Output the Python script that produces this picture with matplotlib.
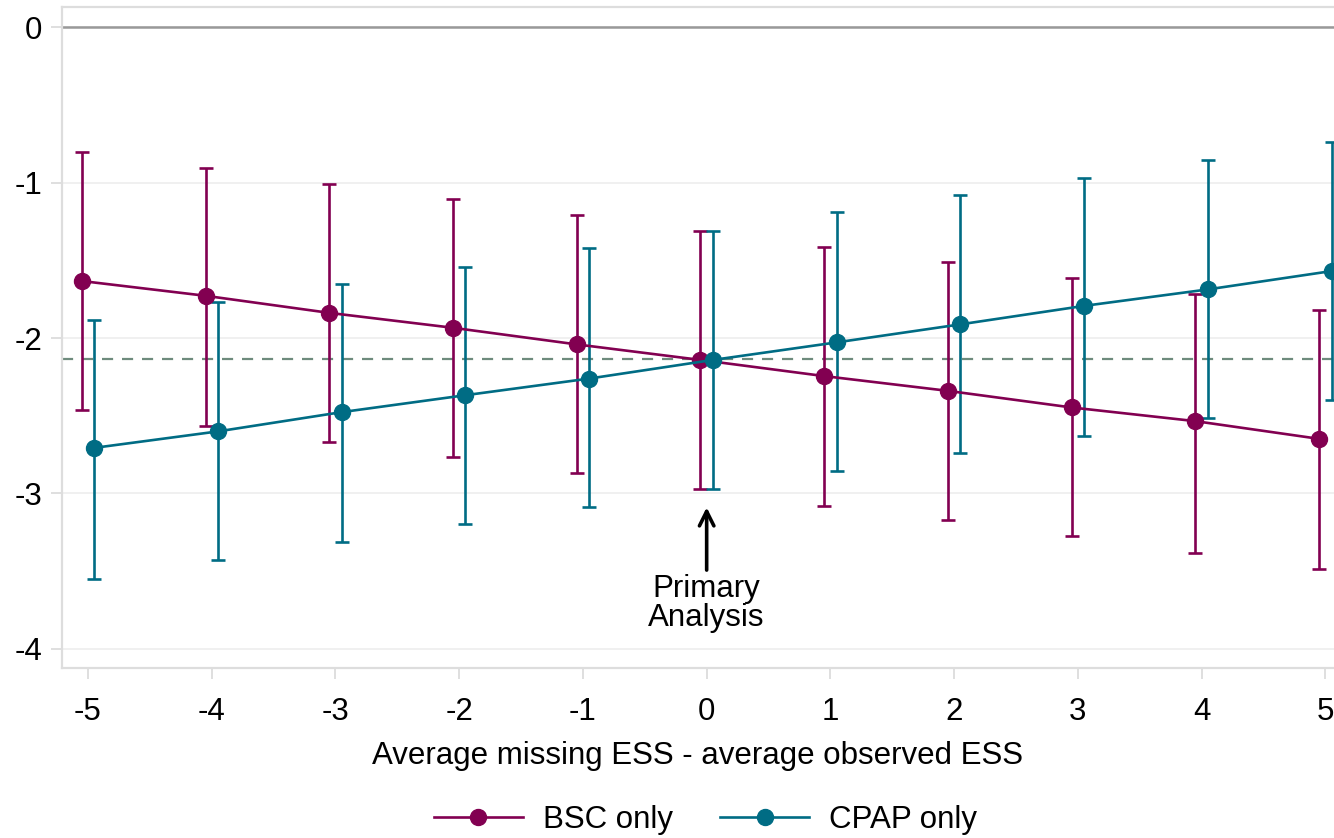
import numpy as np
import matplotlib
matplotlib.use("Agg")
import matplotlib.pyplot as plt

plt.rcParams['font.family'] = ['Liberation Sans', 'DejaVu Sans']

# x = average missing ESS - average observed ESS
ess_diff = [-5, -4, -3, -2, -1, 0, 1, 2, 3, 4, 5]

bsc_mean = [-1.633, -1.728, -1.838, -1.934, -2.041, -2.141, -2.245, -2.340, -2.447, -2.535, -2.649]
bsc_lo = [-2.464, -2.567, -2.672, -2.767, -2.870, -2.973, -3.078, -3.173, -3.276, -3.381, -3.484]
bsc_hi = [-0.801, -0.908, -1.007, -1.106, -1.207, -1.310, -1.417, -1.513, -1.616, -1.715, -1.819]

cpap_mean = [-2.707, -2.601, -2.477, -2.368, -2.261, -2.141, -2.028, -1.912, -1.793, -1.687, -1.569]
cpap_lo = [-3.548, -3.430, -3.316, -3.196, -3.085, -2.973, -2.855, -2.743, -2.632, -2.514, -2.397]
cpap_hi = [-1.887, -1.767, -1.653, -1.543, -1.423, -1.310, -1.191, -1.080, -0.973, -0.852, -0.741]

primary_est = -2.138

bsc_col = '#820051'
cpap_col = '#006c84'
fs = 22.5

fig = plt.figure(figsize=(13.34, 8.38), dpi=100)
ax = fig.add_axes([62/1334, 1 - 668/838, 1 - 62/1334, (668 - 7.3)/838])

x = np.array(ess_diff, dtype=float)
offset = 0.05

def draw_series(xs, mean, lo, hi, col, label):
    mean = np.array(mean)
    err = [mean - np.array(lo), np.array(hi) - mean]
    ax.errorbar(xs, mean, yerr=err, fmt='none', ecolor=col, elinewidth=1.9,
                capsize=5, capthick=1.9, zorder=3)
    ax.plot(xs, mean, '-o', color=col, lw=1.9, ms=11.5, label=label, zorder=4)

draw_series(x - offset, bsc_mean, bsc_lo, bsc_hi, bsc_col, 'BSC only')
draw_series(x + offset, cpap_mean, cpap_lo, cpap_hi, cpap_col, 'CPAP only')

ax.axhline(0, color='#999999', lw=1.8, zorder=2)
ax.axhline(primary_est, color='#6e8b7d', lw=1.6, ls=(0, (5, 4)), zorder=2)

ax.annotate('Primary\nAnalysis', xy=(0, -3.09), xytext=(0, -3.71),
            ha='center', va='center', fontsize=fs, linespacing=0.95,
            arrowprops=dict(arrowstyle='->', lw=2.6, color='black',
                            shrinkA=1, shrinkB=0, mutation_scale=26))

ax.set_xlim(-5.21, 5.07)
ax.set_ylim(-4.124, 0.129)
ax.set_xticks(ess_diff)
ax.set_xticklabels([str(v) for v in ess_diff])
ax.set_yticks([0, -1, -2, -3, -4])
ax.set_yticklabels(['0', '-1', '-2', '-3', '-4'])
ax.grid(axis='y', color='#eeeeee', lw=1.2, zorder=0)
ax.set_axisbelow(True)

for side in ['left', 'bottom', 'top']:
    ax.spines[side].set_color('#dddddd')
    ax.spines[side].set_linewidth(1.6)
ax.spines['right'].set_visible(False)

ax.tick_params(axis='x', length=8, width=1.2, color='#d9d9d9', pad=13, labelsize=fs)
ax.tick_params(axis='y', length=8, width=1.2, color='#d9d9d9', pad=6, labelsize=fs)

ax.set_xlabel('Average missing ESS - average observed ESS', fontsize=fs, labelpad=10)

handles, labels = ax.get_legend_handles_labels()
fig.legend(handles, labels, loc='center', bbox_to_anchor=(0.529, 0.022), ncol=2,
           frameon=False, fontsize=fs, handlelength=2.85, columnspacing=1.5,
           handletextpad=0.65)

fig.savefig('out.png', dpi=100)
